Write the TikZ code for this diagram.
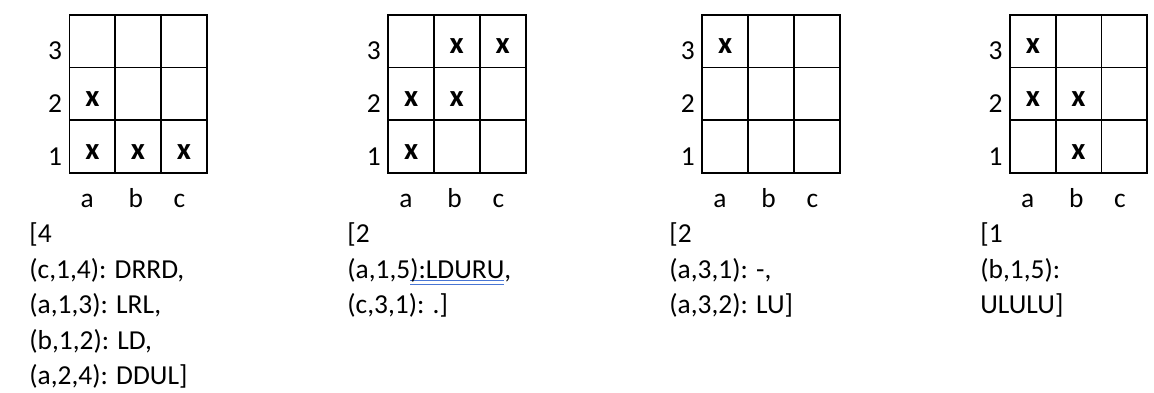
\documentclass[tikz,border=0pt]{standalone}
\usepackage{fontspec}
\setmainfont{Carlito}
\usepackage{tikz}
\definecolor{ulblue}{RGB}{72,118,212}
% double blue underline (proofing mark)
\newcommand{\gramul}[1]{\setbox0\hbox{#1}%
  \rlap{\color{ulblue}\rule[-1.8pt]{\wd0}{0.55pt}}%
  \rlap{\color{ulblue}\rule[-3.7pt]{\wd0}{0.55pt}}\box0}
\tikzset{
  cellline/.style={draw, line width=1.1pt},
  rowlbl/.style={anchor=base, inner sep=0pt, font=\fontsize{15.6}{20.2}\selectfont},
  collbl/.style={anchor=base, inner sep=0pt, font=\fontsize{15.6}{20.2}\selectfont},
  xmark/.style={anchor=base, inner sep=0pt, font=\fontsize{17.5}{20}\selectfont\bfseries},
  moves/.style={anchor=north west, inner sep=0pt, align=left, font=\fontsize{15.6}{20.2}\selectfont},
}
\begin{document}
\begin{tikzpicture}[x=1cm,y=1cm]
\useasboundingbox (0,0) rectangle (23.08,7.84);
% board 1
\begin{scope}[shift={(1.39,4.38)}]
\draw[cellline] (0,0) rectangle (2.745,3.165);
\draw[cellline] (0.915,0) -- (0.915,3.165) (1.83,0) -- (1.83,3.165) (0,1.055) -- (2.745,1.055) (0,2.11) -- (2.745,2.11);
\node[rowlbl] (p1r1) at (-0.29,0.16) {1};
\node[rowlbl] (p1r2) at (-0.29,1.215) {2};
\node[rowlbl] (p1r3) at (-0.29,2.27) {3};
\node[collbl] (p1ca) at (0.355,-0.69) {a};
\node[collbl] (p1cb) at (1.325,-0.69) {b};
\node[collbl] (p1cc) at (2.2,-0.69) {c};
\node[xmark] (p1a2) at (0.46,1.335) {x};
\node[xmark] (p1a1) at (0.46,0.28) {x};
\node[xmark] (p1b1) at (1.37,0.28) {x};
\node[xmark] (p1c1) at (2.29,0.28) {x};
\end{scope}
\node[moves] (t1) at (0.58,3.39) {[4\\(c,1,4): DRRD,\\(a,1,3): LRL,\\(b,1,2): LD,\\(a,2,4): DDUL]};
% board 2
\begin{scope}[shift={(7.766,4.38)}]
\draw[cellline] (0,0) rectangle (2.745,3.165);
\draw[cellline] (0.915,0) -- (0.915,3.165) (1.83,0) -- (1.83,3.165) (0,1.055) -- (2.745,1.055) (0,2.11) -- (2.745,2.11);
\node[rowlbl] (p2r1) at (-0.29,0.16) {1};
\node[rowlbl] (p2r2) at (-0.29,1.215) {2};
\node[rowlbl] (p2r3) at (-0.29,2.27) {3};
\node[collbl] (p2ca) at (0.355,-0.69) {a};
\node[collbl] (p2cb) at (1.325,-0.69) {b};
\node[collbl] (p2cc) at (2.2,-0.69) {c};
\node[xmark] (p2b3) at (1.37,2.39) {x};
\node[xmark] (p2c3) at (2.29,2.39) {x};
\node[xmark] (p2a2) at (0.46,1.335) {x};
\node[xmark] (p2b2) at (1.37,1.335) {x};
\node[xmark] (p2a1) at (0.46,0.28) {x};
\end{scope}
\node[moves] (t2) at (6.94,3.39) {[2\\(a,1,5\gramul{):LDURU},\\(c,3,1): .]};
% board 3
\begin{scope}[shift={(14.046,4.38)}]
\draw[cellline] (0,0) rectangle (2.745,3.165);
\draw[cellline] (0.915,0) -- (0.915,3.165) (1.83,0) -- (1.83,3.165) (0,1.055) -- (2.745,1.055) (0,2.11) -- (2.745,2.11);
\node[rowlbl] (p3r1) at (-0.29,0.16) {1};
\node[rowlbl] (p3r2) at (-0.29,1.215) {2};
\node[rowlbl] (p3r3) at (-0.29,2.27) {3};
\node[collbl] (p3ca) at (0.355,-0.69) {a};
\node[collbl] (p3cb) at (1.325,-0.69) {b};
\node[collbl] (p3cc) at (2.2,-0.69) {c};
\node[xmark] (p3a3) at (0.46,2.39) {x};
\end{scope}
\node[moves] (t3) at (13.38,3.39) {[2\\(a,3,1): -,\\(a,3,2): LU]};
% board 4
\begin{scope}[shift={(20.2,4.38)}]
\draw[cellline] (0,0) rectangle (2.745,3.165);
\draw[cellline] (0.915,0) -- (0.915,3.165) (1.83,0) -- (1.83,3.165) (0,1.055) -- (2.745,1.055) (0,2.11) -- (2.745,2.11);
\node[rowlbl] (p4r1) at (-0.29,0.16) {1};
\node[rowlbl] (p4r2) at (-0.29,1.215) {2};
\node[rowlbl] (p4r3) at (-0.29,2.27) {3};
\node[collbl] (p4ca) at (0.355,-0.69) {a};
\node[collbl] (p4cb) at (1.325,-0.69) {b};
\node[collbl] (p4cc) at (2.2,-0.69) {c};
\node[xmark] (p4a3) at (0.46,2.39) {x};
\node[xmark] (p4a2) at (0.46,1.335) {x};
\node[xmark] (p4b2) at (1.37,1.335) {x};
\node[xmark] (p4b1) at (1.37,0.28) {x};
\end{scope}
\node[moves] (t4) at (19.6,3.39) {[1\\(b,1,5):\\ULULU]};
\end{tikzpicture}
\end{document}
